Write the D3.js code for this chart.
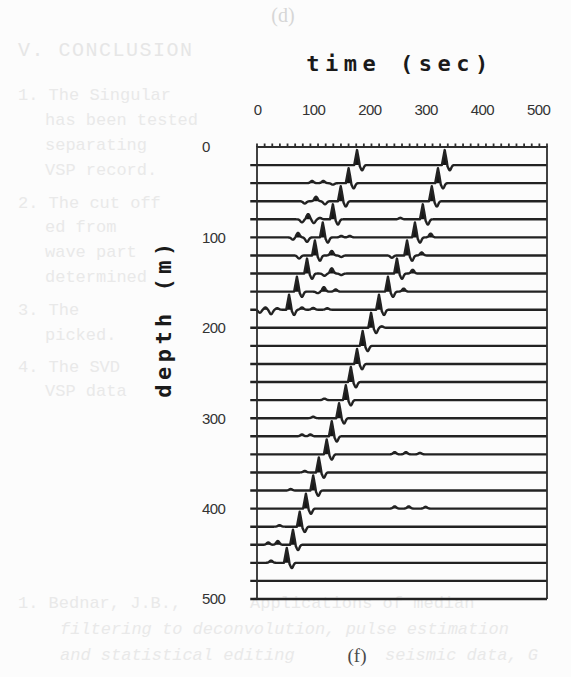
<!DOCTYPE html>
<html>
<head>
<meta charset="utf-8">
<script src="https://cdn.jsdelivr.net/npm/d3@7"></script>
<style>
    body { margin: 0; background: #fcfcfc; }
    svg { display: block; }
</style>
</head>
<body>
<div id="chart"></div>
<script>
// receiver depths (m), one trace per depth
const depths = [20, 40, 60, 80, 100, 120, 140, 160, 180, 200, 220, 240, 260,
    280, 300, 320, 340, 360, 380, 400, 420, 440, 460, 480, 500];

// the long event that crosses the whole section (time of the peak), null = no event
const longEvent = [334, 322, 311, 295, 281, 267, 249, 233, 217, 203, 188, 178, 167,
    158, 146, 133, 124, 110, 100, 87, 76, 64, 53, null, null];

// the short, steeper event that dies out near 190 m
const shortEvent = [178, 163, 149, 135, 117, 103, 89, 71, 57, null, null, null, null,
    null, null, null, null, null, null, null, null, null, null, null, null];

// weak wiggles on each trace: [time, relative amplitude]
const smallWiggles = [
    [],
    [[98, 0.15], [118, 0.15], [135, -0.1]],
    [[85, -0.15], [105, 0.3], [121, -0.2]],
    [[80, -0.2], [91, 0.35], [101, -0.25], [112, 0.1], [255, 0.1]],
    [[64, -0.15], [73, 0.3], [89, -0.3], [150, 0.1], [165, 0.1], [309, 0.25]],
    [[75, -0.2], [133, 0.3], [150, -0.1], [240, -0.15], [293, 0.2]],
    [[120, -0.15], [133, 0.35], [150, -0.1], [277, 0.25]],
    [[108, -0.1], [119, 0.3], [140, 0.15], [261, 0.2]],
    [[5, -0.2], [15, 0.15], [25, -0.3], [36, 0.1], [80, 0.15], [100, 0.12], [125, 0.1]],
    [[222, 0.1]],
    [], [], [],
    [[120, 0.1]],
    [[100, 0.1]],
    [[80, 0.12], [95, 0.12]],
    [[245, 0.15], [265, 0.15], [290, 0.1]],
    [[85, 0.1]],
    [[60, 0.1]],
    [[245, 0.15], [270, 0.15], [300, 0.12]],
    [[40, 0.1]],
    [[20, 0.15], [37, 0.25]],
    [[25, 0.15]],
    [], []
];

const timeTicks = [0, 100, 200, 300, 400, 500];
const depthTicks = [0, 100, 200, 300, 400, 500];

// faded page text showing through the scan: [text, x, y, italic]
const pageLines = [
    ["1. The Singular", 18, 100, false],
    ["has been tested", 45, 125, false],
    ["separating", 45, 150, false],
    ["VSP record.", 45, 175, false],
    ["2. The cut off", 18, 208, false],
    ["ed from", 45, 232, false],
    ["wave part", 45, 257, false],
    ["determined", 45, 282, false],
    ["3. The", 18, 315, false],
    ["picked.", 45, 340, false],
    ["4. The SVD", 18, 372, false],
    ["VSP data", 45, 396, false],
    ["1. Bednar, J.B.,", 18, 608, false],
    ["Applications of median", 250, 608, false],
    ["filtering to deconvolution, pulse estimation", 60, 634, true],
    ["and statistical editing", 60, 660, true],
    ["seismic data, G", 385, 660, true]
];

const W = 571, H = 677;
const tMax = 516;           // right edge of the frame in time units
const ampPx = 15;           // pixels for a unit peak

const svg = d3.select("#chart").append("svg")
    .attr("width", W)
    .attr("height", H)
    .style("background", "#fcfcfc");

const x = d3.scaleLinear([0, tMax], [257, 547]);
const y = d3.scaleLinear([0, 500], [147, 599]);

// faint page text
svg.append("g")
    .selectAll("text")
    .data(pageLines)
    .join("text")
    .attr("x", d => d[1])
    .attr("y", d => d[2])
    .attr("font-family", "Liberation Mono, monospace")
    .attr("font-size", 17)
    .attr("font-style", d => d[3] ? "italic" : "normal")
    .attr("fill", "#e9e9e9")
    .text(d => d[0]);

svg.append("text")
    .attr("x", 18).attr("y", 56)
    .attr("font-family", "Liberation Mono, monospace")
    .attr("font-size", 20)
    .attr("letter-spacing", 1.5)
    .attr("fill", "#e6e6e6")
    .text("V.   CONCLUSION");

svg.append("text")
    .attr("x", 283).attr("y", 22)
    .attr("text-anchor", "middle")
    .attr("font-family", "Liberation Serif, serif")
    .attr("font-size", 20)
    .attr("fill", "#d6d6d6")
    .text("(d)");

// sharp peak followed by a shallow trough
function wavelet(tau) {
    let v = 0;
    if (Math.abs(tau) < 5) v += 1 - Math.abs(tau) / 5;
    v -= 0.35 * Math.exp(-Math.pow((tau - 9) / 3.5, 2));
    return v;
}
function bump(tau) {
    return Math.exp(-Math.pow(tau / 4, 2));
}

const sampleTimes = d3.range(-12, tMax + 0.5, 0.5);

const traces = depths.map((depth, i) => {
    const samples = sampleTimes.map(t => {
        let v = 0;
        if (longEvent[i] != null) v += wavelet(t - longEvent[i]);
        if (shortEvent[i] != null) v += wavelet(t - shortEvent[i]);
        smallWiggles[i].forEach(([t0, a]) => { v += a * bump(t - t0); });
        return [t, v];
    });
    return {depth, samples};
});

const plot = svg.append("g");

const area = base => d3.area()
    .x(d => x(d[0]))
    .y0(base)
    .y1(d => base - Math.max(0, d[1]) * ampPx);
const line = base => d3.line()
    .x(d => x(d[0]))
    .y(d => base - d[1] * ampPx);

plot.selectAll("path.fill")
    .data(traces)
    .join("path")
    .classed("fill", true)
    .attr("d", d => area(y(d.depth))(d.samples))
    .attr("fill", "#151515");

plot.selectAll("path.trace")
    .data(traces)
    .join("path")
    .classed("trace", true)
    .attr("d", d => line(y(d.depth))(d.samples))
    .attr("fill", "none")
    .attr("stroke", "#222")
    .attr("stroke-width", 2.4)
    .attr("stroke-linejoin", "round");

// frame: top, left and right edges
const frame = svg.append("g")
    .attr("stroke", "#2e2e2e")
    .attr("stroke-width", 1.8)
    .attr("fill", "none");
frame.append("path")
    .attr("d", `M${x(0)},${y(500)}V${y(0)}H${x(tMax)}V${y(500)}`);

// small tick marks along the top edge
frame.selectAll("line.tick")
    .data(d3.range(0, tMax + 1, tMax / 38))
    .join("line")
    .attr("x1", d => x(d)).attr("x2", d => x(d))
    .attr("y1", y(0)).attr("y2", y(0) - 3.5);

// tick labels through the axis generators
const axisTop = svg.append("g")
    .attr("transform", `translate(0, 115)`)
    .call(d3.axisTop(x).tickValues(timeTicks).tickSize(0).tickPadding(0));
axisTop.select(".domain").remove();
axisTop.selectAll("text")
    .attr("font-family", "Liberation Sans, sans-serif")
    .attr("font-size", 15)
    .attr("letter-spacing", -0.6)
    .attr("fill", "#333")
    .attr("dy", 0);

const axisLeft = svg.append("g")
    .attr("transform", `translate(202, 0)`)
    .call(d3.axisLeft(y).tickValues(depthTicks).tickSize(0).tickPadding(0));
axisLeft.select(".domain").remove();
axisLeft.selectAll("text")
    .attr("text-anchor", "start")
    .attr("x", 0)
    .attr("font-family", "Liberation Sans, sans-serif")
    .attr("font-size", 15)
    .attr("letter-spacing", -0.6)
    .attr("fill", "#333");

// axis titles
svg.append("text")
    .attr("x", 400).attr("y", 71)
    .attr("text-anchor", "middle")
    .attr("font-family", "DejaVu Sans Mono, monospace")
    .attr("font-weight", "bold")
    .attr("font-size", 22)
    .attr("letter-spacing", 5.5)
    .attr("fill", "#1a1a1a")
    .text("time (sec)");

svg.append("text")
    .attr("transform", `translate(171, 318) rotate(-90)`)
    .attr("text-anchor", "middle")
    .attr("font-family", "DejaVu Sans Mono, monospace")
    .attr("font-weight", "bold")
    .attr("font-size", 22)
    .attr("letter-spacing", 4.5)
    .attr("fill", "#1a1a1a")
    .text("depth (m)");

svg.append("text")
    .attr("x", 357).attr("y", 662)
    .attr("text-anchor", "middle")
    .attr("font-family", "Liberation Serif, serif")
    .attr("font-size", 19)
    .attr("fill", "#4a4a4a")
    .text("(f)");
</script>
</body>
</html>
